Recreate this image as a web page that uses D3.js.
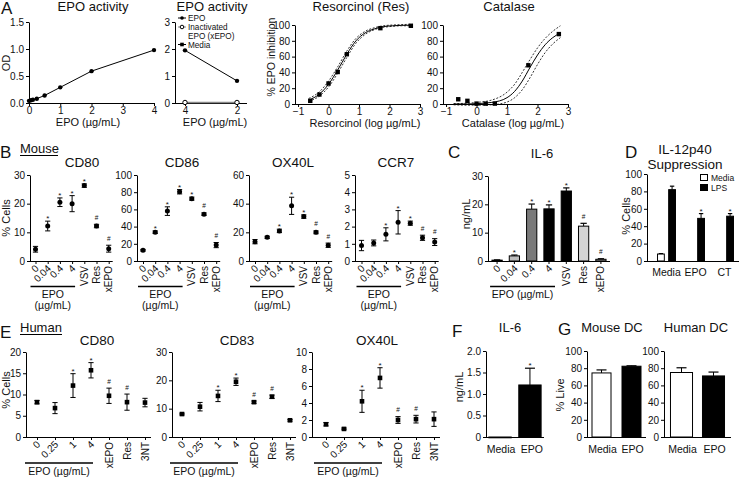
<!DOCTYPE html>
<html><head><meta charset="utf-8">
<script src="https://cdn.jsdelivr.net/npm/d3@7"></script>
<style>
body{margin:0;background:#fff}
svg{display:block;font-family:"Liberation Sans",Arial,Helvetica,sans-serif}
</style></head><body>
<svg id="fig" width="739" height="480"></svg>
<script>
// ================= DATA =================
// Panel A
const a1Conc = [0, 0.0625, 0.125, 0.25, 0.5, 1, 2, 4];
const a1OD = [0.04, 0.05, 0.06, 0.08, 0.14, 0.29, 0.59, 0.98];
const a2Doses = ["4", "2"];
const a2EPO = [1.95, 0.82];
const a2xEPO = [0.02, 0.02];
const resLog = [-0.6, -0.3, 0, 0.3, 0.6, 1.7, 2.7];
const resInhib = [4, 12, 26, 40.5, 63, 96, 99];
const resCurveX = [-0.65, -0.3, 0, 0.3, 0.6, 0.9, 1.2, 1.5, 1.8, 2.1, 2.4, 2.75];
const resFit = [5, 12.5, 25, 43, 63, 80, 90, 95, 98, 99, 99.6, 99.8];
const resUpper = [7, 15.5, 29, 47, 67, 83, 92, 96.5, 99, 100, 100.5, 101];
const resLower = [3.5, 10, 21.5, 39, 59, 77, 88, 94, 97, 98.3, 99, 99];
const catLog = [-0.6, -0.3, 0, 0.3, 0.6, 1.7, 2.7];
const catInhib = [6, 4, 0.5, 0.5, 0.5, 49, 88.5];
const catCurveX = [-0.75, -0.3, 0, 0.5, 1, 1.25, 1.5, 1.75, 2, 2.25, 2.5, 2.75];
const catFit = [0, 0, 0.5, 2, 8, 16, 29, 46, 62, 75, 84, 90];
const catUpper = [0.5, 1, 2, 5, 15, 25, 40, 56, 71, 83, 92, 99];
const catLower = [-1, -1.5, -1.5, -1, 2.5, 8, 18, 33, 50, 65, 76, 84];

// Panel B (mouse)
const mouseCats = ["0", "0.04", "0.4", "4", "VSV", "Res", "xEPO"];
const bCD80 = [4.1, 12.2, 20.5, 20, 26.3, 12.2, 4.3];
const bCD80Err = [1, 1.7, 1.5, 2.8, 0.6, 0.6, 1.2];
const bCD80Sig = ["", "*", "*", "*", "*", "#", "#"];
const bCD86 = [12.5, 33.5, 58, 80.5, 72.5, 54.5, 18.5];
const bCD86Err = [1, 1.5, 5, 2.5, 1.8, 1.5, 3];
const bCD86Sig = ["", "*", "*", "*", "*", "#", "#"];
const bOX40L = [13.5, 16.5, 21, 38.5, 31, 20, 11];
const bOX40LErr = [1.5, 0.8, 1.2, 6, 1.2, 1, 1.5];
const bOX40LSig = ["", "", "*", "*", "*", "#", "#"];
const bCCR7 = [0.9, 1.05, 1.55, 2.25, 2.2, 1.35, 1.1];
const bCCR7Err = [0.3, 0.17, 0.38, 0.68, 0.12, 0.15, 0.2];
const bCCR7Sig = ["", "", "*", "*", "*", "#", "#"];

// Panel C
const cIL6 = [0.3, 1.8, 18.3, 18.4, 24.7, 12.3, 0.6];
const cIL6Err = [0.1, 0.3, 1.8, 1.4, 1.1, 1.0, 0.2];
const cIL6Sig = ["", "*", "*", "*", "*", "#", "#"];

// Panel D
const dGroups = ["Media", "EPO", "CT"];
const dSeries = ["Media", "LPS"];
const dMedia = [8, null, null];
const dMediaErr = [0.5, null, null];
const dLPS = [82, 49, 51.5];
const dLPSErr = [4, 5.5, 3];
const dLPSSig = ["", "*", "*"];

// Panel E (human)
const humanCats = ["0", "0.25", "1", "4", "xEPO", "Res", "3NT"];
const eCD80 = [8.2, 6.8, 12.1, 15.7, 9.7, 8.2, 8.1];
const eCD80Err = [0.4, 1.3, 2.8, 1.8, 1.8, 1.9, 1.0];
const eCD80Sig = ["", "", "*", "*", "#", "#", ""];
const eCD83 = [8.1, 10.7, 14.5, 19.5, 12.3, 14.2, 5.9];
const eCD83Err = [0.3, 1.5, 2, 1.3, 0.4, 0.6, 0.3];
const eCD83Sig = ["", "", "*", "*", "#", "#", ""];
const eOX40L = [1.5, 0.95, 4.2, 6.95, 2.0, 2.1, 2.1];
const eOX40LErr = [0.2, 0.1, 1.3, 1.2, 0.4, 0.45, 0.85];
const eOX40LSig = ["", "", "*", "*", "#", "#", ""];

// Panel F
const fCats = ["Media", "EPO"];
const fIL6 = [0, 1.21];
const fIL6Err = [0, 0.39];
const fIL6Sig = ["", "*"];

// Panel G
const gCats = ["Media", "EPO"];
const gMouseLive = [74.5, 82.3];
const gMouseErr = [3.5, 0.5];
const gHumanLive = [75, 71];
const gHumanErr = [5.5, 4.5];

// ================= HELPERS =================
const svg = d3.select("#fig");
const FONT = "'Liberation Sans', Arial, Helvetica, sans-serif";
const INK = "#111";

function text(x, y, s, size, o = {}) {
  const t = svg.append("text").attr("x", x).attr("y", y).text(s)
    .attr("font-size", size).attr("fill", INK).attr("font-family", FONT)
    .attr("text-anchor", o.anchor || "middle");
  if (o.rotate != null) t.attr("transform", `rotate(${o.rotate},${x},${y})`);
  return t;
}
function styleAxis(g, size = 10) {
  g.attr("font-family", FONT);
  g.selectAll("path, line").attr("stroke", "#000").attr("stroke-width", 1);
  g.selectAll("text").attr("font-size", size).attr("fill", INK);
}
function yAxis(x, scale, ticks, fmt) {
  const g = svg.append("g").attr("transform", `translate(${x},0)`)
    .call(d3.axisLeft(scale).tickValues(ticks).tickFormat(fmt || d3.format("d"))
      .tickSize(3).tickSizeOuter(0).tickPadding(2));
  styleAxis(g);
  return g;
}
function hline(x1, x2, y, w = 1) {
  svg.append("line").attr("x1", x1).attr("x2", x2).attr("y1", y).attr("y2", y)
    .attr("stroke", "#000").attr("stroke-width", w);
}
function linXAxis(y0, scale, ticks, fmt, x1, x2) {
  const g = svg.append("g").attr("transform", `translate(0,${y0})`)
    .call(d3.axisBottom(scale).tickValues(ticks).tickFormat(fmt || d3.format("d"))
      .tickSize(3).tickSizeOuter(0).tickPadding(1));
  g.select(".domain").remove();
  styleAxis(g);
  hline(x1, x2, y0 + 0.5);
  return g;
}
function catLabels(xs, cats, y0, withTicks) {
  const off = xs.bandwidth ? xs.bandwidth() / 2 : 0;
  if (withTicks) {
    const g = svg.append("g").attr("transform", `translate(0,${y0})`)
      .call(d3.axisBottom(xs).tickSize(3).tickSizeOuter(0).tickFormat(""));
    g.select(".domain").remove();
    styleAxis(g);
  }
  cats.forEach(c => {
    const x = xs(c) + off;
    if (!isNaN(+c)) text(x + 4, y0 + 8, c, 10, { anchor: "end", rotate: -45 });
    else text(x + 3.5, y0 + 5, c, 10, { anchor: "end", rotate: -90 });
  });
}
function sigMark(x, y, s) {
  if (!s) return;
  if (s === "*") text(x, y + 3, s, 8);
  else text(x, y - 1.5, s, 6.5);
}
function dotPanel(p) {
  const ys = d3.scaleLinear().domain([0, p.max]).range([p.yb, p.yt]);
  const xs = d3.scalePoint().domain(p.cats).range([p.first, p.first + p.step * (p.cats.length - 1)]);
  yAxis(p.ax, ys, p.ticks);
  hline(p.ax, p.first + p.step * (p.cats.length - 1) + p.endPad, p.yb + 0.5);
  catLabels(xs, p.cats, p.yb, true);
  const g = svg.append("g");
  p.cats.forEach((c, i) => {
    const x = xs(c), m = p.mean[i], e = p.err[i];
    g.append("line").attr("x1", x).attr("x2", x).attr("y1", ys(m - e)).attr("y2", ys(m + e)).attr("stroke", "#000");
    [m - e, m + e].forEach(v => g.append("line").attr("x1", x - 2.6).attr("x2", x + 2.6)
      .attr("y1", ys(v)).attr("y2", ys(v)).attr("stroke", "#000"));
    if (p.square) g.append("rect").attr("x", x - 2.3).attr("y", ys(m) - 2.3).attr("width", 4.6).attr("height", 4.6).attr("fill", "#000");
    else g.append("circle").attr("cx", x).attr("cy", ys(m)).attr("r", 2.5).attr("fill", "#000");
    sigMark(x, ys(m + e) - 3, p.sig[i]);
  });
  text(p.tx, p.ty, p.title, 13.5);
  const l1 = xs(p.cats[0]) - p.lineL, l2 = xs(p.cats[3]) + p.lineR;
  hline(l1, l2, p.lineY, 1.3);
  if (p.twoLine) {
    text((l1 + l2) / 2, p.lineY + 11, "EPO", 10.5);
    text((l1 + l2) / 2, p.lineY + 22, "(µg/mL)", 10.5);
  } else text((l1 + l2) / 2, p.lineY + 12, "EPO (µg/mL)", 10.5);
  return { xs, ys };
}
function drawBars(xs, ys, cats, vals, errs, fills, sig, shift = 0) {
  const bw = xs.bandwidth();
  cats.forEach((c, i) => {
    const v = vals[i];
    if (v == null) return;
    const x = xs(c) + shift;
    const e = errs[i] || 0;
    if (e > 0) {
      svg.append("line").attr("x1", x + bw / 2).attr("x2", x + bw / 2).attr("y1", ys(v)).attr("y2", ys(v + e)).attr("stroke", "#000");
      svg.append("line").attr("x1", x + bw / 2 - Math.min(5, bw * 0.28)).attr("x2", x + bw / 2 + Math.min(5, bw * 0.28))
        .attr("y1", ys(v + e)).attr("y2", ys(v + e)).attr("stroke", "#000").attr("stroke-width", 1.2);
    }
    svg.append("rect").attr("x", x + 0.5).attr("y", ys(v)).attr("width", bw - 1)
      .attr("height", Math.max(0.8, ys(0) - ys(v))).attr("fill", fills[i]).attr("stroke", "#000").attr("stroke-width", 1);
    if (sig && sig[i]) sigMark(x + bw / 2, ys(v + e) - 3, sig[i]);
  });
}

// ================= PANEL A =================
text(1, 14, "A", 17, { anchor: "start" });
{ // A1
  const x = d3.scaleLinear().domain([0, 4]).range([29, 154]);
  const y = d3.scaleLinear().domain([0, 1.5]).range([103, 22]);
  yAxis(29, y, [0, 0.5, 1, 1.5], d3.format(".1f"));
  linXAxis(103, x, [0, 1, 2, 3, 4], d3.format("d"), 29, 155);
  const pts = a1Conc.map((c, i) => [x(c), y(a1OD[i])]);
  svg.append("path").attr("d", d3.line()(pts)).attr("fill", "none").attr("stroke", "#000").attr("stroke-width", 1);
  svg.selectAll(null).data(pts).join("circle").attr("cx", d => d[0]).attr("cy", d => d[1]).attr("r", 2.2).attr("fill", "#000");
  text(93, 10.5, "EPO activity", 13);
  text(88, 126, "EPO (µg/mL)", 11);
  text(10, 63, "OD", 11, { rotate: -90 });
}
{ // A2
  const x = d3.scalePoint().domain(a2Doses).range([185, 237]);
  const y = d3.scaleLinear().domain([0, 3]).range([103, 22]);
  yAxis(175, y, [0, 1, 2, 3]);
  linXAxis(103, x, a2Doses, d => d, 175, 247);
  const ptsX = a2Doses.map((d, i) => [x(d), y(a2xEPO[i])]);
  svg.append("path").attr("d", d3.line()(ptsX)).attr("fill", "none").attr("stroke", "#888").attr("stroke-width", 1.5);
  ptsX.forEach(p => svg.append("circle").attr("cx", p[0]).attr("cy", p[1]).attr("r", 2.2).attr("fill", "#fff").attr("stroke", "#000"));
  const pts = a2Doses.map((d, i) => [x(d), y(a2EPO[i])]);
  svg.append("path").attr("d", d3.line()(pts)).attr("fill", "none").attr("stroke", "#000");
  pts.forEach(p => svg.append("circle").attr("cx", p[0]).attr("cy", p[1]).attr("r", 2.2).attr("fill", "#000"));
  text(212, 10.5, "EPO activity", 13);
  text(215, 126, "EPO (µg/mL)", 11);
  const lg = svg.append("g");
  const rowsY = [18, 27, 44.5];
  rowsY.forEach((ry, i) => {
    lg.append("line").attr("x1", 178).attr("x2", 186).attr("y1", ry).attr("y2", ry).attr("stroke", i === 1 ? "#888" : "#000");
    if (i === 0) lg.append("circle").attr("cx", 182).attr("cy", ry).attr("r", 1.8).attr("fill", "#000");
    if (i === 1) lg.append("circle").attr("cx", 182).attr("cy", ry).attr("r", 1.8).attr("fill", "#fff").attr("stroke", "#000");
    if (i === 2) lg.append("rect").attr("x", 180.2).attr("y", ry - 1.8).attr("width", 3.6).attr("height", 3.6).attr("fill", "#000");
  });
  text(188, 21, "EPO", 8.2, { anchor: "start" });
  text(188, 30, "Inactivated", 8.2, { anchor: "start" });
  text(188, 38.5, "EPO (xEPO)", 8.2, { anchor: "start" });
  text(188, 47.5, "Media", 8.2, { anchor: "start" });
}
function fitPanel(ax, xr, xv, yv, cx, fit, up, lo, title, tx, xlabel, ylabel) {
  const x = d3.scaleLinear().domain([-1.1, 3]).range(xr);
  const y = d3.scaleLinear().domain([0, 100]).range([104, 25]);
  yAxis(ax, y, [0, 20, 40, 60, 80, 100]);
  linXAxis(104, x, [-1, 0, 1, 2, 3], d3.format("d"), ax, xr[1] + 1);
  const line = d3.line().curve(d3.curveMonotoneX);
  [[up, "2,1.6"], [lo, "2,1.6"], [fit, null]].forEach(([arr, dash]) => {
    const p = svg.append("path").attr("d", line(cx.map((v, i) => [x(v), y(arr[i])])))
      .attr("fill", "none").attr("stroke", "#000").attr("stroke-width", dash ? 0.8 : 1);
    if (dash) p.attr("stroke-dasharray", dash);
  });
  xv.forEach((v, i) => svg.append("rect").attr("x", x(v) - 2.2).attr("y", y(yv[i]) - 2.2)
    .attr("width", 4.4).attr("height", 4.4).attr("fill", "#000"));
  text(tx, 11, title, 13);
  text(tx + 4, 126.5, xlabel, 11);
  if (ylabel) text(275, 57, ylabel, 10.5, { rotate: -90 });
}
fitPanel(295, [295, 420], resLog, resInhib, resCurveX, resFit, resUpper, resLower,
  "Resorcinol (Res)", 361, "Resorcinol (log µg/mL)", "% EPO inhibition");
fitPanel(443, [443, 568], catLog, catInhib, catCurveX, catFit, catUpper, catLower,
  "Catalase", 509, "Catalase (log µg/mL)", null);

// ================= PANEL B =================
text(0, 158, "B", 17, { anchor: "start" });
text(20, 153, "Mouse", 13, { anchor: "start" });
hline(20, 58, 155.5, 1);
const bCommon = { cats: mouseCats, step: 12.2, yb: 261, yt: 175, endPad: 4, ty: 167, lineL: 5, lineR: 3, lineY: 286.5, twoLine: true };
dotPanel({ ...bCommon, ax: 30, first: 35.5, max: 30, ticks: [0, 10, 20, 30], mean: bCD80, err: bCD80Err, sig: bCD80Sig, title: "CD80", tx: 82 });
dotPanel({ ...bCommon, ax: 137, first: 143, max: 100, ticks: [0, 20, 40, 60, 80, 100], mean: bCD86, err: bCD86Err, sig: bCD86Sig, title: "CD86", tx: 182 });
dotPanel({ ...bCommon, ax: 249, first: 255, max: 60, ticks: [0, 20, 40, 60], mean: bOX40L, err: bOX40LErr, sig: bOX40LSig, title: "OX40L", tx: 293 });
dotPanel({ ...bCommon, ax: 355, first: 361.5, max: 5, ticks: [0, 1, 2, 3, 4, 5], mean: bCCR7, err: bCCR7Err, sig: bCCR7Sig, title: "CCR7", tx: 396 });
text(10, 218, "% Cells", 11, { rotate: -90 });

// ================= PANEL C =================
text(448, 158, "C", 17, { anchor: "start" });
{
  const ys = d3.scaleLinear().domain([0, 30]).range([261, 176]);
  const xs = d3.scaleBand().domain(mouseCats).range([488, 610]).paddingInner(0.35).paddingOuter(0.2);
  yAxis(488, ys, [0, 10, 20, 30]);
  hline(488, 610, 261.5);
  const fills = ["#000", "#bdbdbd", "#7a7a7a", "#000", "#000", "#d3d3d3", "#9a9a9a"];
  drawBars(xs, ys, mouseCats, cIL6, cIL6Err, fills, cIL6Sig);
  catLabels(xs, mouseCats, 261, true);
  text(542, 158, "IL-6", 13);
  text(470, 214, "ng/mL", 11, { rotate: -90 });
  const l1 = xs("0") + xs.bandwidth() / 2 - 7, l2 = xs("4") + xs.bandwidth() / 2 + 6;
  hline(l1, l2, 286.5, 1.3);
  text((l1 + l2) / 2, 298, "EPO (µg/mL)", 10.5);
}

// ================= PANEL D =================
text(625, 158, "D", 17, { anchor: "start" });
{
  const ys = d3.scaleLinear().domain([0, 100]).range([261, 174]);
  const xg = d3.scaleBand().domain(dGroups).range([652, 739]);
  const xi = d3.scaleBand().domain(dSeries).range([0, xg.bandwidth()]).paddingInner(0.3).paddingOuter(0.45);
  yAxis(647, ys, [0, 20, 40, 60, 80, 100]);
  hline(647, 739, 261.5);
  dGroups.forEach((gname, i) => {
    drawBars(xi, ys, ["Media"], [dMedia[i]], [dMediaErr[i]], ["#fff"], null, xg(gname));
    drawBars(xi, ys, ["LPS"], [dLPS[i]], [dLPSErr[i]], ["#000"], [dLPSSig[i]], xg(gname));
    text(xg(gname) + xg.bandwidth() / 2, 276, gname, 10.5);
  });
  text(685, 153.5, "IL-12p40", 13.5);
  text(685, 169, "Suppression", 13.5);
  text(630, 216, "% Cells", 11, { rotate: -90 });
  svg.append("rect").attr("x", 700.5).attr("y", 174.5).attr("width", 7).attr("height", 6).attr("fill", "#fff").attr("stroke", "#000");
  svg.append("rect").attr("x", 700.5).attr("y", 184.5).attr("width", 7).attr("height", 6).attr("fill", "#000").attr("stroke", "#000");
  text(711, 181, "Media", 8.5, { anchor: "start" });
  text(711, 191, "LPS", 8.5, { anchor: "start" });
}

// ================= PANEL E =================
text(0, 338, "E", 17, { anchor: "start" });
text(20, 332, "Human", 13, { anchor: "start" });
hline(20, 62, 334.5, 1);
const eCommon = { cats: humanCats, step: 18, yb: 437, yt: 352, endPad: 6, ty: 345, lineL: 12, lineR: 2, lineY: 463, twoLine: false, square: true };
dotPanel({ ...eCommon, ax: 26, first: 37, max: 20, ticks: [0, 5, 10, 15, 20], mean: eCD80, err: eCD80Err, sig: eCD80Sig, title: "CD80", tx: 97 });
dotPanel({ ...eCommon, ax: 172, first: 182, max: 30, ticks: [0, 10, 20, 30], mean: eCD83, err: eCD83Err, sig: eCD83Sig, title: "CD83", tx: 237 });
dotPanel({ ...eCommon, ax: 312, first: 326, max: 10, ticks: [0, 2, 4, 6, 8, 10], mean: eOX40L, err: eOX40LErr, sig: eOX40LSig, title: "OX40L", tx: 377 });
text(10, 390, "% Cells", 11, { rotate: -90 });

// ================= PANEL F =================
text(452, 337, "F", 17, { anchor: "start" });
{
  const ys = d3.scaleLinear().domain([0, 2]).range([437, 351]);
  const xs = d3.scaleBand().domain(fCats).range([486, 544]).paddingInner(0.22).paddingOuter(0.08);
  yAxis(486, ys, [0, 0.5, 1, 1.5, 2], d => d === 0 ? "0" : d3.format(".1f")(d));
  hline(486, 544, 437.5);
  drawBars(xs, ys, fCats, fIL6, fIL6Err, ["#000", "#000"], fIL6Sig);
  fCats.forEach(c => text(xs(c) + xs.bandwidth() / 2 + (c === "Media" ? 1 : 2), 453, c, 10.5));
  text(510, 332, "IL-6", 13);
  text(463, 387, "ng/mL", 11, { rotate: -90 });
}

// ================= PANEL G =================
text(558, 335, "G", 17, { anchor: "start" });
function gPanel(ax, xEnd, pi, po, vals, errs, title, tx) {
  const ys = d3.scaleLinear().domain([0, 100]).range([437, 351]);
  const xs = d3.scaleBand().domain(gCats).range([ax, xEnd]).paddingInner(pi).paddingOuter(po);
  yAxis(ax, ys, [0, 20, 40, 60, 80, 100]);
  hline(ax, xEnd, 437.5);
  drawBars(xs, ys, gCats, vals, errs, ["#fff", "#000"], null);
  gCats.forEach(c => text(xs(c) + xs.bandwidth() / 2 + 1, 453, c, 10.5));
  text(tx, 332, title, 13);
}
gPanel(587, 646, 0.333, 0.15, gMouseLive, gMouseErr, "Mouse DC", 612);
gPanel(664, 731, 0.28, 0.187, gHumanLive, gHumanErr, "Human DC", 696);
text(564, 395, "% Live", 11, { rotate: -90 });
</script>
</body></html>
